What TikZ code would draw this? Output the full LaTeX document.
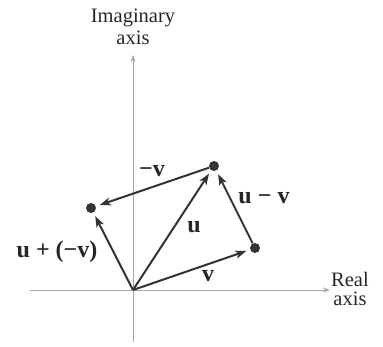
\documentclass[tikz,border=0pt]{standalone}
\usepackage{fontspec}
\setmainfont{Liberation Serif}
\usetikzlibrary{arrows.meta}
\begin{document}
\begin{tikzpicture}[x=1pt,y=-1pt,
  axis/.style={draw=gray!70, line width=0.9pt, -{Stealth[length=7pt,width=5pt]}},
  vec/.style={draw=black!80, line width=2pt, -{Stealth[length=11pt,width=8pt,inset=3pt]}, shorten >=4pt},
  pt/.style={circle, fill=black!80, inner sep=0pt, minimum size=10pt},
  axlab/.style={font=\fontsize{20.5}{20}\selectfont, align=center, text=black!85, inner sep=0pt},
  vlab/.style={font=\fontsize{24}{26}\selectfont\bfseries, text=black!85, inner sep=1pt}]
\useasboundingbox (0,0) rectangle (383,347);
\coordinate (O) at (133,290);
\coordinate (ybot) at (133,342);
\coordinate (ytop) at (133,55);
\coordinate (xl) at (30,290);
\coordinate (xr) at (330,290);
\draw[axis] (ybot) -- (ytop);
\draw[axis] (xl) -- (xr);
\node[pt] (U) at (214,166) {};
\node[pt] (V) at (255,248) {};
\node[pt] (W) at (91,208) {};
\draw[vec] (O) -- (U);
\draw[vec] (O) -- (V);
\draw[vec] (O) -- (W);
\draw[vec] (V) -- (U);
\draw[vec] (U) -- (W);
\node[axlab] (im1) at (133,18) {Imaginary};
\node[axlab] (im2) at (133,38) {axis};
\node[axlab] (re1) at (350,279) {Real};
\node[axlab] (re2) at (350,299) {axis};
\node[vlab] (lmv) at (152,171) {−v};
\node[vlab] (lumv) at (264,198) {u − v};
\node[vlab] (lu) at (194,227) {u};
\node[vlab] (lupv) at (57,252) {u + (−v)};
\node[vlab] (lv) at (208,276) {v};
\end{tikzpicture}
\end{document}
